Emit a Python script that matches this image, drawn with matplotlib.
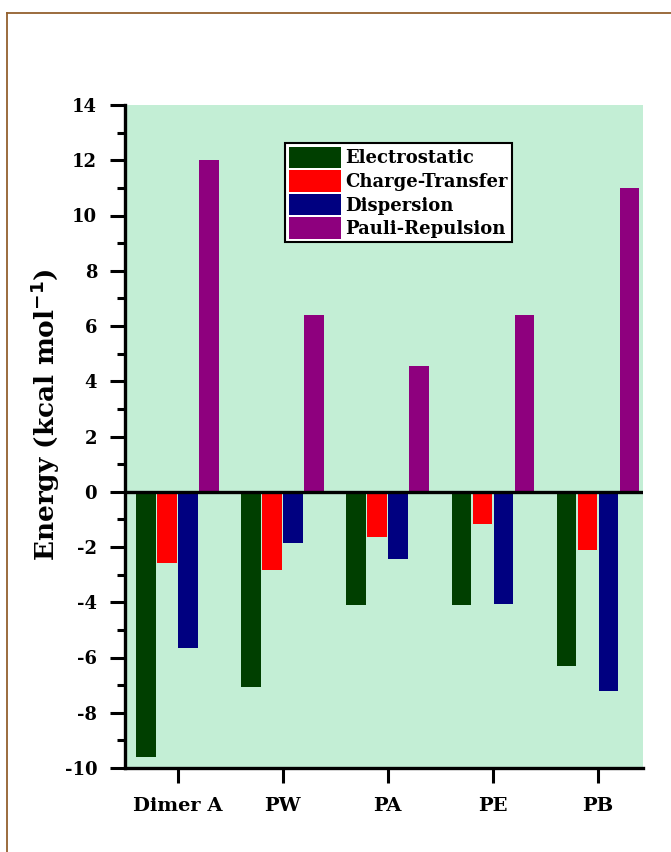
import numpy as np
import matplotlib.pyplot as plt
from matplotlib.lines import Line2D

systems = ['Dimer A', 'PW', 'PA', 'PE', 'PB']
electrostatic = [-9.6, -7.05, -4.1, -4.1, -6.3]
charge_transfer = [-2.58, -2.85, -1.65, -1.15, -2.1]
dispersion = [-5.67, -1.87, -2.42, -4.05, -7.2]
pauli = [12.0, 6.4, 4.55, 6.4, 11.0]

series = [('Electrostatic', electrostatic, '#003f00'),
          ('Charge-Transfer', charge_transfer, '#ff0000'),
          ('Dispersion', dispersion, '#000080'),
          ('Pauli-Repulsion', pauli, '#8e007e')]

plt.rcParams['axes.unicode_minus'] = False
font = 'DejaVu Serif'
fig = plt.figure(figsize=(6.71, 8.52), dpi=100)
ax = fig.add_axes([125/671, 1-768/852, (643-125)/671, (768-105)/852])
ax.set_facecolor('#c3eed5')

x = np.arange(len(systems))
step = 0.2
w = 0.185
for i, (name, vals, col) in enumerate(series):
    ax.bar(x + (i - 1.5)*step, vals, w, color=col, label=name, zorder=2)

ax.axhline(0, color='black', lw=2.4, zorder=3)
ax.set_xlim(-0.5, 4.43)
ax.set_ylim(-10, 14)
ax.set_yticks(np.arange(-10, 15, 2))
ax.set_yticks(np.arange(-10, 15, 1), minor=True)
ax.set_xticks(x)
ax.set_xticklabels(systems, fontfamily=font, fontweight='bold', fontsize=14)
for t in ax.get_yticklabels():
    t.set_fontfamily(font)
    t.set_fontweight('bold')
    t.set_fontsize(13)

for s in ['top', 'right']:
    ax.spines[s].set_visible(False)
for s in ['left', 'bottom']:
    ax.spines[s].set_linewidth(2.4)
ax.tick_params(axis='y', which='major', direction='out', length=11, width=2.2, pad=9)
ax.tick_params(axis='y', which='minor', direction='out', length=6, width=2.2)
ax.tick_params(axis='x', which='major', direction='out', length=11, width=2.2, pad=10)

fig.text(45/671, 1-415/852, 'Energy (kcal mol$^{\\mathbf{-1}}$)', rotation=90,
         ha='center', va='center', fontfamily=font, fontweight='bold', fontsize=19)

leg = ax.legend(loc='upper left', bbox_to_anchor=(285/671, 1-143/852),
                bbox_transform=fig.transFigure,
                prop={'family': font, 'weight': 'bold', 'size': 13},
                handlelength=2.9, handleheight=1.45, labelspacing=0.12,
                handletextpad=0.25, borderpad=0.2, borderaxespad=0,
                fancybox=False, framealpha=1, edgecolor='black')
leg.get_frame().set_linewidth(1.5)

# brown border of the panel
fig.add_artist(Line2D([6.5/671, 6.5/671], [0, 1-13/852], color='#93602e', lw=1.3))
fig.add_artist(Line2D([6.5/671, 1], [1-13/852, 1-13/852], color='#93602e', lw=1.3))

fig.savefig('out.png', dpi=100)
